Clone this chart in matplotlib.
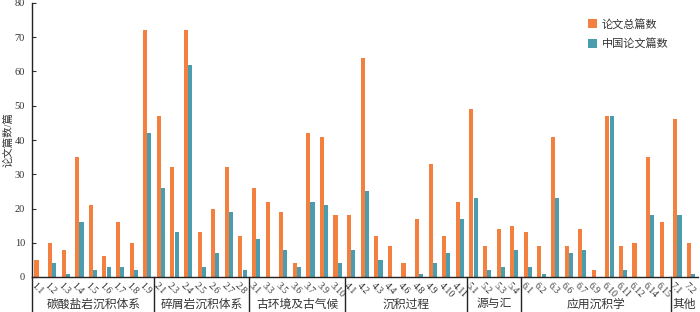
import matplotlib
matplotlib.use("Agg")
import matplotlib.pyplot as plt
import matplotlib.transforms as mtransforms
import numpy as np

plt.rcParams['font.family'] = ['Liberation Serif', 'Noto Sans CJK SC']
plt.rcParams['axes.unicode_minus'] = False

groups = ["碳酸盐岩沉积体系", "碎屑岩沉积体系", "古环境及古气候", "沉积过程", "源与汇", "应用沉积学", "其他"]
group_cats = [
    ["1.1", "1.2", "1.3", "1.4", "1.5", "1.6", "1.7", "1.8", "1.9"],
    ["2.1", "2.3", "2.4", "2.5", "2.6", "2.7", "2.8"],
    ["3.1", "3.3", "3.5", "3.6", "3.7", "3.9", "3.10"],
    ["4.1", "4.2", "4.3", "4.4", "4.6", "4.8", "4.9", "4.10", "4.11"],
    ["5.1", "5.2", "5.3", "5.4"],
    ["6.1", "6.2", "6.3", "6.6", "6.7", "6.9", "6.10", "6.11", "6.12", "6.14", "6.15"],
    ["7.1", "7.2"],
]
total_papers = [5, 10, 8, 35, 21, 6, 16, 10, 72,
                47, 32, 72, 13, 20, 32, 12,
                26, 22, 19, 4, 42, 41, 18,
                18, 64, 12, 9, 4, 17, 33, 12, 22,
                49, 9, 14, 15,
                13, 9, 41, 9, 14, 2, 47, 9, 10, 35, 16,
                46, 10]
china_papers = [0, 4, 1, 16, 2, 3, 3, 2, 42,
                26, 13, 62, 3, 7, 19, 2,
                11, 0, 8, 3, 22, 21, 4,
                8, 25, 5, 0, 0, 1, 4, 7, 17,
                23, 2, 3, 8,
                3, 1, 23, 7, 8, 0, 47, 2, 0, 18, 0,
                18, 1]

categories = [c for g in group_cats for c in g]
x = np.arange(len(categories))

orange = "#F3803F"
teal = "#4A9DAE"

fig = plt.figure(figsize=(7.0, 3.12), dpi=100)
ax = fig.add_axes([32/700, 35/312, 666/700, 274/312])

w = 0.3
ax.bar(x - 0.17, total_papers, width=w, color=orange, label="论文总篇数", edgecolor="none")
ax.bar(x + 0.14, china_papers, width=w, color=teal, label="中国论文篇数", edgecolor="none")

ax.set_xlim(-0.5, len(categories) - 0.5)
ax.set_ylim(0, 80)
ax.set_yticks(np.arange(0, 81, 10))
ax.tick_params(axis='y', direction='in', length=3, width=0.8, labelsize=7.5, pad=5, colors='#333333')
ax.set_xticks(x)
ax.set_xticklabels(categories, rotation=-45, ha='left', va='top', rotation_mode='anchor', fontsize=7, color='#333333')
ax.tick_params(axis='x', length=0, pad=3)
for lab in ax.get_xticklabels():
    lab.set_transform(lab.get_transform() + mtransforms.ScaledTranslation(-3/100, 0, fig.dpi_scale_trans))

for s in ['top', 'right']:
    ax.spines[s].set_visible(False)
ax.spines['left'].set_linewidth(1.0)
ax.spines['bottom'].set_linewidth(1.0)
ax.spines['left'].set_color('#222222')
ax.spines['bottom'].set_color('#222222')

ax.set_ylabel("论文篇数/篇", fontsize=7.5, color='#333333')
ax.yaxis.set_label_coords(-0.028, 0.5)

trans = mtransforms.blended_transform_factory(ax.transData, ax.transAxes)
bounds = [-0.5]
pos = -0.5
for g in group_cats:
    pos += len(g)
    bounds.append(pos)
for b in bounds[:-1]:
    ax.plot([b, b], [0, -0.13], transform=trans, color='#222222', lw=1.0, clip_on=False)
for i, gname in enumerate(groups):
    mid = (bounds[i] + bounds[i + 1]) / 2
    ax.text(mid, -0.1, gname, transform=trans, ha='center', va='center', fontsize=8.5, color='#333333')

leg = ax.legend(loc='upper left', bbox_to_anchor=(0.82, 0.98), frameon=False, fontsize=8,
                handlelength=0.8, handleheight=0.8, handletextpad=0.4, labelspacing=0.8)
for t in leg.get_texts():
    t.set_color('#333333')

fig.savefig("out.png", dpi=100)
